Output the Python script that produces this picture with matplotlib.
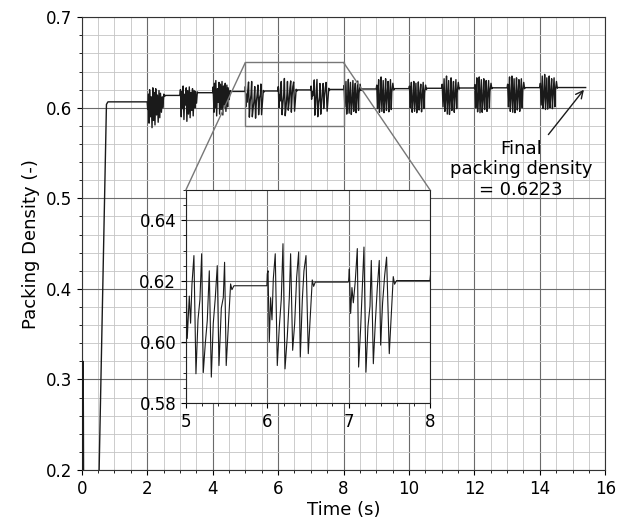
import matplotlib
matplotlib.use("Agg")
import matplotlib.pyplot as plt
import numpy as np
from matplotlib.patches import Rectangle, ConnectionPatch
from matplotlib.ticker import MultipleLocator, FormatStrFormatter

# ---------------- data ----------------
ramp_t = [0.000, 0.035, 0.042, 0.050, 0.060, 0.520, 0.755, 0.800]
ramp_v = [0.150, 0.150, 0.320, 0.260, 0.150, 0.180, 0.6037, 0.6065]

# relative times within a burst (shared by bursts read from the main view)
burst_offsets = [0.000, 0.016, 0.041, 0.057, 0.074, 0.098, 0.123, 0.148, 0.172,
                 0.193, 0.213, 0.238, 0.262, 0.287, 0.312, 0.336, 0.361, 0.385,
                 0.406, 0.435, 0.459, 0.475, 0.508, 0.533, 0.549]

burst_2 = [0.6065, 0.598, 0.615, 0.583, 0.620, 0.590, 0.612, 0.578, 0.622, 0.586,
           0.617, 0.581, 0.621, 0.592, 0.614, 0.584, 0.619, 0.589, 0.616, 0.595,
           0.612, 0.600, 0.615, 0.6125, 0.6136]
burst_3 = [0.6136, 0.620, 0.590, 0.618, 0.599, 0.624, 0.587, 0.615, 0.603, 0.622,
           0.585, 0.619, 0.593, 0.623, 0.589, 0.617, 0.597, 0.621, 0.591, 0.619,
           0.600, 0.618, 0.605, 0.6175, 0.6166]
burst_4 = [0.6166, 0.623, 0.595, 0.627, 0.600, 0.630, 0.591, 0.621, 0.606, 0.628,
           0.593, 0.626, 0.598, 0.629, 0.592, 0.624, 0.603, 0.627, 0.596, 0.625,
           0.601, 0.622, 0.609, 0.619, 0.6180]

# bursts (own time stamps)
t_burst_5 = [4.995, 5.000, 5.016, 5.041, 5.057, 5.074, 5.098, 5.123, 5.148, 5.172,
             5.193, 5.213, 5.238, 5.262, 5.287, 5.312, 5.336, 5.361, 5.385, 5.406,
             5.435, 5.459, 5.475, 5.495, 5.549, 5.565, 5.590]
v_burst_5 = [0.6180, 0.6234, 0.6012, 0.6151, 0.6062, 0.6190, 0.6284, 0.5896, 0.6073,
             0.6140, 0.6290, 0.5900, 0.5996, 0.6070, 0.6234, 0.5885, 0.6062, 0.6146,
             0.6251, 0.5923, 0.6112, 0.6146, 0.6262, 0.5923, 0.6191, 0.6172, 0.6185]
t_burst_6 = [5.995, 6.000, 6.009, 6.025, 6.041, 6.058, 6.074, 6.098, 6.123, 6.148,
             6.172, 6.193, 6.218, 6.246, 6.271, 6.287, 6.312, 6.337, 6.361, 6.386,
             6.406, 6.431, 6.451, 6.476, 6.504, 6.553, 6.570, 6.590]
v_burst_6 = [0.6185, 0.6224, 0.6234, 0.6001, 0.6146, 0.6073, 0.6207, 0.6290, 0.5923,
             0.6051, 0.6140, 0.6323, 0.5912, 0.6018, 0.6146, 0.6290, 0.5973, 0.6062,
             0.6212, 0.6296, 0.5951, 0.6140, 0.6234, 0.6284, 0.5962, 0.6204, 0.6183,
             0.6197]
t_burst_7 = [6.995, 7.000, 7.009, 7.025, 7.041, 7.058, 7.082, 7.107, 7.123, 7.148,
             7.164, 7.189, 7.213, 7.238, 7.263, 7.279, 7.304, 7.328, 7.353, 7.377,
             7.394, 7.418, 7.443, 7.467, 7.500, 7.549, 7.565, 7.590]
v_burst_7 = [0.6197, 0.6200, 0.6240, 0.6094, 0.6179, 0.6129, 0.6200, 0.6307, 0.5918,
             0.6046, 0.6150, 0.6312, 0.5901, 0.6051, 0.6118, 0.6268, 0.5929, 0.6062,
             0.6179, 0.6268, 0.5990, 0.6129, 0.6218, 0.6279, 0.5962, 0.6215, 0.6190,
             0.6202]

burst_8 = [0.6202, 0.6245, 0.6010, 0.6150, 0.6290, 0.5930, 0.6080, 0.6313, 0.5940,
           0.6120, 0.6280, 0.5926, 0.6060, 0.6300, 0.5960, 0.6150, 0.6270, 0.5945,
           0.6110, 0.6295, 0.5970, 0.6160, 0.6260, 0.6190, 0.6207]
burst_9 = [0.6207, 0.6250, 0.5990, 0.6180, 0.6310, 0.5950, 0.6100, 0.6340, 0.5960,
           0.6130, 0.6300, 0.5945, 0.6080, 0.6320, 0.5970, 0.6140, 0.6290, 0.5955,
           0.6120, 0.6310, 0.5980, 0.6170, 0.6270, 0.6195, 0.6211]
burst_10 = [0.6211, 0.6240, 0.6000, 0.6160, 0.6280, 0.5950, 0.6090, 0.6290, 0.5960,
            0.6120, 0.6270, 0.5945, 0.6070, 0.6285, 0.5975, 0.6150, 0.6260, 0.5955,
            0.6110, 0.6280, 0.5990, 0.6160, 0.6250, 0.6200, 0.6215]
burst_11 = [0.6215, 0.6260, 0.6010, 0.6170, 0.6320, 0.5960, 0.6100, 0.6350, 0.5930,
            0.6120, 0.6300, 0.5926, 0.6080, 0.6330, 0.5970, 0.6150, 0.6290, 0.5950,
            0.6120, 0.6310, 0.5990, 0.6170, 0.6280, 0.6205, 0.6218]
burst_12 = [0.6218, 0.6255, 0.6000, 0.6180, 0.6330, 0.5955, 0.6110, 0.6340, 0.5945,
            0.6130, 0.6310, 0.5950, 0.6090, 0.6320, 0.5980, 0.6160, 0.6300, 0.5960,
            0.6130, 0.6300, 0.6000, 0.6180, 0.6270, 0.6210, 0.6220]
burst_13 = [0.6220, 0.6260, 0.6010, 0.6190, 0.6340, 0.5960, 0.6120, 0.6350, 0.5950,
            0.6140, 0.6320, 0.5945, 0.6100, 0.6330, 0.5975, 0.6160, 0.6310, 0.5960,
            0.6140, 0.6320, 0.6000, 0.6180, 0.6280, 0.6210, 0.6222]
burst_14 = [0.6222, 0.6270, 0.6030, 0.6200, 0.6350, 0.5990, 0.6130, 0.6368, 0.5980,
            0.6150, 0.6330, 0.5985, 0.6110, 0.6350, 0.6000, 0.6170, 0.6320, 0.5990,
            0.6150, 0.6330, 0.6010, 0.6190, 0.6290, 0.6215, 0.6223]

final_t = [15.40]
final_v = [0.6223]

main_bursts = {2: burst_2, 3: burst_3, 4: burst_4, 8: burst_8, 9: burst_9,
               10: burst_10, 11: burst_11, 12: burst_12, 13: burst_13, 14: burst_14}
inset_bursts = {5: (t_burst_5, v_burst_5), 6: (t_burst_6, v_burst_6),
                7: (t_burst_7, v_burst_7)}

zoom_x = (5, 8)
zoom_y = (0.58, 0.65)
final_label = "Final\npacking density\n= 0.6223"

# assemble series
t_all = list(ramp_t)
v_all = list(ramp_v)
for s in range(2, 15):
    if s in main_bursts:
        t_all += [s + o for o in burst_offsets]
        v_all += main_bursts[s]
    else:
        tt, vv = inset_bursts[s]
        t_all += tt
        v_all += vv
t_all += final_t
v_all += final_v
t_all = np.array(t_all)
v_all = np.array(v_all)

# ---------------- figure ----------------
fig = plt.figure(figsize=(6.24, 5.2), dpi=100)
ax = fig.add_axes([0.131, 0.096, 0.839, 0.871])

line_color = "#1a1a1a"
major_grid = dict(color="#6a6a6a", linewidth=0.8)
minor_grid = dict(color="#c4c4c4", linewidth=0.6)

ax.plot(t_all, v_all, color=line_color, linewidth=1.0, zorder=3)
ax.set_xlim(0, 16)
ax.set_ylim(0.2, 0.7)
ax.xaxis.set_major_locator(MultipleLocator(2))
ax.xaxis.set_minor_locator(MultipleLocator(0.5))
ax.yaxis.set_major_locator(MultipleLocator(0.1))
ax.yaxis.set_minor_locator(MultipleLocator(0.02))
ax.yaxis.set_major_formatter(FormatStrFormatter("%.1f"))
ax.grid(which="major", **major_grid)
ax.grid(which="minor", **minor_grid)
ax.set_axisbelow(True)
ax.tick_params(labelsize=12)
ax.set_xlabel("Time (s)", fontsize=13, labelpad=2)
ax.set_ylabel("Packing Density (-)", fontsize=13)
for sp in ax.spines.values():
    sp.set_color("#333333")

ax.annotate(final_label, xy=(final_t[0], final_v[0]), xytext=(13.42, 0.532),
            ha="center", va="center", fontsize=13,
            arrowprops=dict(arrowstyle="->", color=line_color, lw=1.0))

rect = Rectangle((zoom_x[0], zoom_y[0]), zoom_x[1] - zoom_x[0], zoom_y[1] - zoom_y[0],
                 fill=False, edgecolor="#777777", linewidth=1.0, zorder=4)
ax.add_patch(rect)

# inset
axins = fig.add_axes([0.298, 0.225, 0.391, 0.410])
axins.set_facecolor("white")
axins.plot(t_all, v_all, color=line_color, linewidth=0.8, zorder=3)
axins.set_xlim(*zoom_x)
axins.set_ylim(*zoom_y)
axins.xaxis.set_major_locator(MultipleLocator(1))
axins.xaxis.set_minor_locator(MultipleLocator(0.2))
axins.yaxis.set_major_locator(MultipleLocator(0.02))
axins.yaxis.set_minor_locator(MultipleLocator(0.005))
axins.yaxis.set_major_formatter(FormatStrFormatter("%.2f"))
axins.grid(which="major", **major_grid)
axins.grid(which="minor", **minor_grid)
axins.set_axisbelow(True)
axins.tick_params(labelsize=12)
for sp in axins.spines.values():
    sp.set_color("#222222")

for xa, xb in [((zoom_x[0], zoom_y[1]), (0, 1)), ((zoom_x[1], zoom_y[1]), (1, 1))]:
    con = ConnectionPatch(xyA=xa, coordsA=ax.transData, xyB=xb, coordsB=axins.transAxes,
                          color="#777777", linewidth=1.0)
    fig.add_artist(con)

fig.savefig("out.png", dpi=100)
